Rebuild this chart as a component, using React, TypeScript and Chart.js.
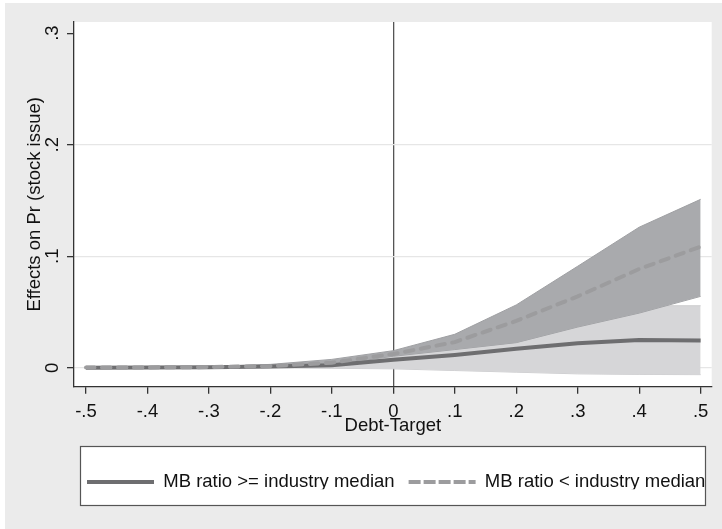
import React, { useEffect, useRef } from "react";
import { Chart, registerables } from "chart.js";

Chart.register(...registerables);

// ---- data ----
const debtTarget = [-0.5, -0.4, -0.3, -0.2, -0.1, 0, 0.1, 0.2, 0.3, 0.4, 0.5];

// MB ratio >= industry median (solid line, light band)
const highMB = [0.0001, 0.0002, 0.0004, 0.001, 0.0022, 0.0072, 0.0115, 0.017, 0.022, 0.0248, 0.0245];
const highMBLower = [0, 0, 0, 0, -0.0005, -0.001, -0.0025, -0.004, -0.0055, -0.006, -0.0062];
const highMBUpper = [0.0002, 0.0004, 0.0008, 0.002, 0.005, 0.013, 0.026, 0.054, 0.0556, 0.0556, 0.0556];

// MB ratio < industry median (dashed line, dark band)
const lowMB = [0.0002, 0.0003, 0.0006, 0.0015, 0.0045, 0.0123, 0.023, 0.042, 0.064, 0.0885, 0.1086];
const lowMBLower = [0.0001, 0.0002, 0.0004, 0.001, 0.0027, 0.0103, 0.0163, 0.0225, 0.0365, 0.049, 0.064];
const lowMBUpper = [0.0003, 0.0005, 0.001, 0.003, 0.0075, 0.0153, 0.03, 0.0563, 0.091, 0.126, 0.151];

const xTickValues = [-0.5, -0.4, -0.3, -0.2, -0.1, 0, 0.1, 0.2, 0.3, 0.4, 0.5];
const yTickValues = [0, 0.1, 0.2, 0.3];
const yGridValues = [0, 0.1, 0.2];
const refLineX = 0;

const xTitle = "Debt-Target";
const yTitle = "Effects on Pr (stock issue)";
const legendLabels = ["MB ratio >= industry median", "MB ratio < industry median"];

// ---- styling ----
const FONT = '"Liberation Sans", Arial, Helvetica, sans-serif';
const FS = 18.5;
const TEXT = "#111111";
const SOLID = "#6e6e70";
const DASHED = "#9c9c9e";
const DARK_BAND = "#a9aaad";
const DARK_EDGE = "#9fa0a3";
const LIGHT_BAND = "#d6d6d8";
const LIGHT_EDGE = "#cdcdcf";
const AXIS = "#333333";
const DASH = [8.5, 7.5];

function fmt(v: number): string {
  if (Math.abs(v) < 1e-9) return "0";
  return v.toFixed(1).replace(/^(-?)0\./, "$1.");
}

const pts = (ys: number[]) => debtTarget.map((x, i) => ({ x, y: ys[i] }));

const bgPlugin = {
  id: "stataBackground",
  afterLayout(chart: any) {
    const lg = chart.legend;
    if (lg) {
      lg.left = 68;
      lg.right = 780;
      lg.top = 455.8;
    }
  },
  beforeDraw(chart: any) {
    const { ctx, width, height, chartArea: a } = chart;
    ctx.save();
    ctx.fillStyle = "#ebebeb";
    ctx.fillRect(0, 0, width, height);
    ctx.fillStyle = "#ffffff";
    ctx.fillRect(a.left, a.top, a.right - a.left, a.bottom - a.top);
    // legend frame
    ctx.fillRect(75, 443, 626, 60);
    ctx.strokeStyle = "#555555";
    ctx.lineWidth = 1.2;
    ctx.strokeRect(75.5, 443.5, 625, 59);
    ctx.restore();
  },
};

export default function App() {
  const ref = useRef<HTMLCanvasElement | null>(null);

  useEffect(() => {
    if (!ref.current) return;
    const chart = new Chart(ref.current, {
      type: "line",
      data: {
        datasets: [
          {
            label: "lower high",
            data: pts(highMBLower),
            borderColor: LIGHT_EDGE,
            borderWidth: 1,
            pointRadius: 0,
            fill: false,
            order: 6,
          },
          {
            label: "upper high",
            data: pts(highMBUpper),
            borderColor: LIGHT_EDGE,
            borderWidth: 1,
            backgroundColor: LIGHT_BAND,
            pointRadius: 0,
            fill: "-1",
            order: 5,
          },
          {
            label: "lower low",
            data: pts(lowMBLower),
            borderColor: DARK_EDGE,
            borderWidth: 1,
            pointRadius: 0,
            fill: false,
            order: 4,
          },
          {
            label: "upper low",
            data: pts(lowMBUpper),
            borderColor: DARK_EDGE,
            borderWidth: 1,
            backgroundColor: DARK_BAND,
            pointRadius: 0,
            fill: "-1",
            order: 3,
          },
          {
            label: legendLabels[0],
            data: pts(highMB),
            borderColor: SOLID,
            borderWidth: 4,
            pointRadius: 0,
            fill: false,
            order: 2,
          },
          {
            label: legendLabels[1],
            data: pts(lowMB),
            borderColor: DASHED,
            borderWidth: 4,
            borderDash: DASH,
            borderCapStyle: "round",
            pointRadius: 0,
            fill: false,
            order: 1,
          },
        ],
      },
      options: {
        animation: false,
        responsive: false,
        events: [],
        layout: { padding: { top: 19, left: 0, right: 10.3, bottom: 39.8 } },
        scales: {
          x: {
            type: "linear",
            min: -0.5195,
            max: 0.518,
            afterBuildTicks: (s: any) => {
              s.ticks = xTickValues.map((value) => ({ value }));
            },
            afterFit: (s: any) => {
              s.height = 60;
            },
            ticks: {
              callback: (v: any) => fmt(Number(v)),
              font: { family: FONT, size: FS },
              color: TEXT,
              padding: 7.5,
              maxRotation: 0,
              minRotation: 0,
              autoSkip: false,
            },
            grid: {
              color: (c: any) => (c.tick && c.tick.value === refLineX ? "#555555" : "rgba(0,0,0,0)"),
              lineWidth: 1.3,
              tickColor: AXIS,
              tickWidth: 1.3,
              tickLength: 7,
            },
            border: { display: true, color: AXIS, width: 1.3 },
            title: {
              display: true,
              text: xTitle,
              font: { family: FONT, size: FS },
              color: TEXT,
              padding: { top: 0, bottom: 9.6 },
            },
          },
          y: {
            type: "linear",
            min: -0.017,
            max: 0.31,
            afterBuildTicks: (s: any) => {
              s.ticks = yTickValues.map((value) => ({ value }));
            },
            afterFit: (s: any) => {
              s.width = 69;
            },
            ticks: {
              callback: (v: any) => fmt(Number(v)),
              font: { family: FONT, size: FS },
              color: TEXT,
              padding: 6,
              minRotation: 90,
              maxRotation: 90,
              crossAlign: "center",
              autoSkip: false,
            },
            grid: {
              color: (c: any) => (c.tick && yGridValues.includes(c.tick.value) ? "#e6e6e6" : "rgba(0,0,0,0)"),
              lineWidth: 1.3,
              tickColor: AXIS,
              tickWidth: 1.3,
              tickLength: 7,
            },
            border: { display: true, color: AXIS, width: 1.3 },
            title: {
              display: true,
              text: yTitle,
              font: { family: FONT, size: FS },
              color: TEXT,
              padding: { top: 18.9, bottom: 0 },
            },
          },
        },
        plugins: {
          tooltip: { enabled: false },
          legend: {
            display: true,
            position: "bottom",
            align: "start",
            labels: {
              font: { family: FONT, size: FS },
              color: TEXT,
              usePointStyle: true,
              pointStyleWidth: 67,
              padding: 14,
              generateLabels: () => [
                {
                  text: legendLabels[0],
                  fillStyle: "rgba(0,0,0,0)",
                  strokeStyle: SOLID,
                  lineWidth: 4,
                  lineDash: [],
                  lineCap: "butt",
                  pointStyle: "line",
                  fontColor: TEXT,
                  hidden: false,
                  datasetIndex: 4,
                },
                {
                  text: legendLabels[1],
                  fillStyle: "rgba(0,0,0,0)",
                  strokeStyle: DASHED,
                  lineWidth: 4,
                  lineDash: [12, 3],
                  lineCap: "butt",
                  pointStyle: "line",
                  fontColor: TEXT,
                  hidden: false,
                  datasetIndex: 5,
                },
              ],
            },
          },
        },
      } as any,
      plugins: [bgPlugin],
    });
    return () => chart.destroy();
  }, []);

  return (
    <div style={{ position: "absolute", left: 5, top: 3, width: 717, height: 526 }}>
      <canvas ref={ref} width={717} height={526} style={{ display: "block" }} />
    </div>
  );
}
